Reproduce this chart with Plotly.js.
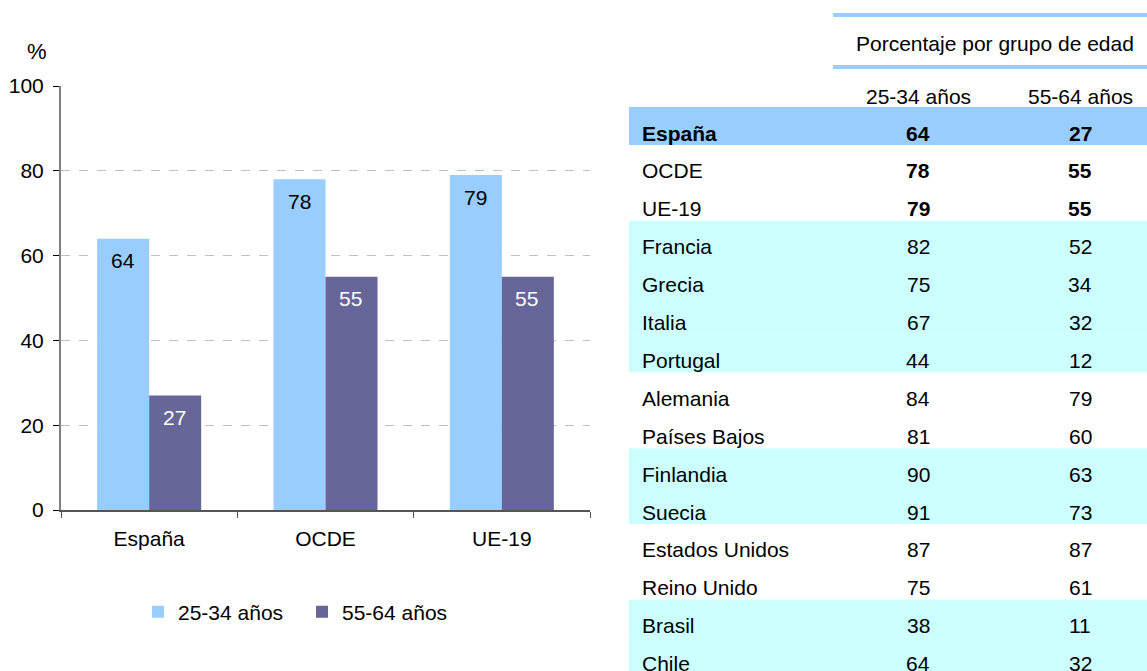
<!DOCTYPE html>
<html>
<head>
<meta charset="utf-8">
<script src="https://cdn.plot.ly/plotly-3.0.1.min.js"></script>
<style>html,body{margin:0;padding:0;background:#fff;}#chart{width:1147px;height:671px;}</style>
</head>
<body>
<div id="chart"></div>
<script>
// ---- data ----
const categories = ['España', 'OCDE', 'UE-19'];
const seriesNames = ['25-34 años', '55-64 años'];
const young = [64, 78, 79];
const old = [27, 55, 55];
const yTicks = [0, 20, 40, 60, 80, 100];
const yUnit = '%';

const tableTitle = 'Porcentaje por grupo de edad';
const tableRows = ['España', 'OCDE', 'UE-19', 'Francia', 'Grecia', 'Italia', 'Portugal',
  'Alemania', 'Países Bajos', 'Finlandia', 'Suecia', 'Estados Unidos', 'Reino Unido', 'Brasil', 'Chile'];
const tableYoung = [64, 78, 79, 82, 75, 67, 44, 84, 81, 90, 91, 87, 75, 38, 64];
const tableOld = [27, 55, 55, 52, 34, 32, 12, 79, 60, 63, 73, 87, 61, 11, 32];

// ---- styles ----
const rowBand = ['blue', '', '', 'cyan', 'cyan', 'cyan', 'cyan', '', '', 'cyan', 'cyan', '', '', 'cyan', 'cyan'];
const boldName = [true, false, false, false, false, false, false, false, false, false, false, false, false, false, false];
const boldValue = [true, true, true, false, false, false, false, false, false, false, false, false, false, false, false];
const colLight = '#99CCFF', colDark = '#666699', colCyan = '#CCFFFF';
const FONT = 'Liberation Sans, Arial, sans-serif';
const FS = 21;

const W = 1147, H = 671;
const px = v => v / W;

const traces = [
  {type: 'bar', x: categories, y: young, name: seriesNames[0], marker: {color: colLight}, hoverinfo: 'skip'},
  {type: 'bar', x: categories, y: old, name: seriesNames[1], marker: {color: colDark}, hoverinfo: 'skip'},
  {type: 'scatter', x: [0], y: [0], xaxis: 'x2', yaxis: 'y2', mode: 'markers', marker: {opacity: 0}, showlegend: false, hoverinfo: 'skip'}
];

const annotations = [];
const shapes = [];

// bar value labels
categories.forEach((c, i) => {
  annotations.push({x: c, y: young[i], xref: 'x', yref: 'y', text: String(young[i]), showarrow: false,
    xshift: -26, yshift: -22, yanchor: 'middle', font: {family: FONT, size: FS, color: '#000'}});
  annotations.push({x: c, y: old[i], xref: 'x', yref: 'y', text: String(old[i]), showarrow: false,
    xshift: 25, yshift: -22, yanchor: 'middle', font: {family: FONT, size: FS, color: '#fff'}});
});
// unit label
annotations.push({x: px(37), y: 1 - 52 / H, xref: 'paper', yref: 'paper', text: yUnit, showarrow: false,
  xanchor: 'center', yanchor: 'middle', font: {family: FONT, size: FS + 1, color: '#000'}});

// table
const tx0 = px(629), nameX = px(640), c1X = px(918), c2X = px(1080);
tableRows.forEach((r, i) => {
  if (rowBand[i]) {
    shapes.push({type: 'rect', xref: 'paper', yref: 'y2', x0: tx0, x1: 1, y0: i - 0.5, y1: i + 0.5,
      fillcolor: rowBand[i] === 'blue' ? colLight : colCyan, line: {width: 0}, layer: 'below'});
  }
  const b = (t, on) => on ? '<b>' + t + '</b>' : String(t);
  annotations.push({x: nameX, y: i, xref: 'paper', yref: 'y2', text: b(r, boldName[i]), showarrow: false,
    xanchor: 'left', yanchor: 'middle', yshift: -7, font: {family: FONT, size: FS, color: '#000'}});
  annotations.push({x: c1X, y: i, xref: 'paper', yref: 'y2', text: b(tableYoung[i], boldValue[i]), showarrow: false,
    xanchor: 'center', yanchor: 'middle', yshift: -7, font: {family: FONT, size: FS, color: '#000'}});
  annotations.push({x: c2X, y: i, xref: 'paper', yref: 'y2', text: b(tableOld[i], boldValue[i]), showarrow: false,
    xanchor: 'center', yanchor: 'middle', yshift: -7, font: {family: FONT, size: FS, color: '#000'}});
});
// table header
annotations.push({x: c1X, y: -0.79, xref: 'paper', yref: 'y2', text: seriesNames[0], showarrow: false,
  xanchor: 'center', yanchor: 'middle', font: {family: FONT, size: FS, color: '#000'}});
annotations.push({x: c2X, y: -0.79, xref: 'paper', yref: 'y2', text: seriesNames[1], showarrow: false,
  xanchor: 'center', yanchor: 'middle', font: {family: FONT, size: FS, color: '#000'}});
annotations.push({x: px(995), y: -2.19, xref: 'paper', yref: 'y2', text: tableTitle, showarrow: false,
  xanchor: 'center', yanchor: 'middle', font: {family: FONT, size: FS, color: '#000'}});
[-2.93, -1.56].forEach(yv => {
  shapes.push({type: 'line', xref: 'paper', yref: 'y2', x0: px(833), x1: 1, y0: yv, y1: yv,
    line: {color: colLight, width: 4}});
});

const rowPx = 37.9, row0Px = 126;
const layout = {
  width: W, height: H,
  margin: {l: 0, r: 0, t: 0, b: 0},
  paper_bgcolor: '#fff', plot_bgcolor: 'rgba(0,0,0,0)',
  font: {family: FONT, size: FS, color: '#000'},
  barmode: 'group', bargap: 0.41, bargroupgap: 0,
  showlegend: true,
  legend: {orientation: 'h', x: px(138), xanchor: 'left', y: 1 - 612 / H, yanchor: 'middle',
    font: {family: FONT, size: FS, color: '#000'}, itemwidth: 30, tracegroupgap: 0,
    entrywidth: 119, entrywidthmode: 'pixels'},
  xaxis: {domain: [px(61), px(590)], type: 'category', tickson: 'boundaries', ticks: 'outside', ticklen: 6,
    tickcolor: '#555', showline: true, linecolor: '#555', linewidth: 1.5, showgrid: false,
    ticklabelstandoff: 9,
    tickfont: {family: FONT, size: FS, color: '#000'}, fixedrange: true},
  yaxis: {domain: [1 - 510 / H, 1 - 86 / H], range: [0, 100], tickvals: yTicks, ticktext: yTicks.map(String),
    ticks: 'outside', ticklen: 6, tickcolor: '#000', showline: true, linecolor: '#808080', linewidth: 2,
    showgrid: true, gridcolor: '#c0c0c0', griddash: 'dash', gridwidth: 1, zeroline: false,
    ticklabelstandoff: 5,
    tickfont: {family: FONT, size: FS, color: '#000'}, fixedrange: true},
  xaxis2: {domain: [px(629), 1], range: [0, 1], visible: false, anchor: 'y2', fixedrange: true},
  yaxis2: {domain: [0, 1], range: [(H - row0Px) / rowPx, -row0Px / rowPx], visible: false, anchor: 'x2', fixedrange: true},
  annotations: annotations,
  shapes: shapes
};

Plotly.newPlot('chart', traces, layout, {staticPlot: true, displayModeBar: false});
</script>
</body>
</html>
